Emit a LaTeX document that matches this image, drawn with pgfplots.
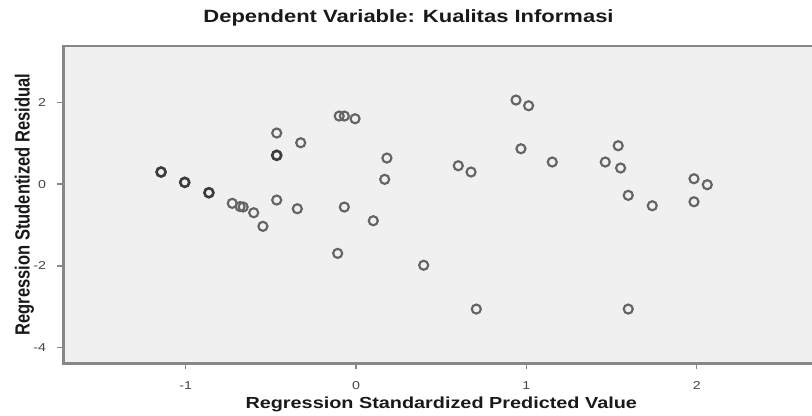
\documentclass[border=0pt]{standalone}
\usepackage{graphicx}
\usepackage{fontspec}
\setmainfont{Liberation Sans}[FakeStretch=1.24]
\newfontfamily\ylabfont{Liberation Sans}
\usepackage{pgfplots}
\pgfplotsset{compat=1.18}
\definecolor{bgc}{RGB}{240,240,240}
\definecolor{framec}{RGB}{135,135,135}
\definecolor{markc}{RGB}{100,100,100}
\definecolor{markd}{RGB}{60,60,60}
\definecolor{txtc}{RGB}{25,25,25}
\definecolor{tickc}{RGB}{70,70,70}
\begin{document}
\begin{tikzpicture}
\begin{axis}[
  name=ax,
  scale only axis,
  width=566.6pt, height=238.2pt,
  xmin=-1.718, xmax=2.718,
  ymin=-4.39, ymax=3.389,
  axis background/.style={fill=bgc},
  axis line style={draw=framec, line width=1.8pt},
  xtick={-1,0,1,2}, ytick={-4,-2,0,2},
  xtick pos=bottom, ytick pos=left,
  tick align=outside,
  major tick length=4.5pt,
  every tick/.style={draw=framec, line width=1.1pt},
  /pgf/number format/assume math mode=true,
  tick label style={font=\fontsize{8.6}{10}\selectfont, text=tickc, inner sep=0pt},
  xticklabel style={anchor=base, yshift=-15.2pt},
  yticklabel style={anchor=east, xshift=-8.3pt},
  every axis title/.style={at={(axis description cs:0.4567,1.0724)}, anchor=base,
    font=\bfseries\fontsize{13.3}{15}\selectfont, text=txtc},
  every axis x label/.style={at={(axis description cs:0.5,-0.1417)}, anchor=base,
    font=\bfseries\fontsize{12}{14}\selectfont, text=txtc},
  every axis y label/.style={at={(axis description cs:-0.0447,0.5)}, rotate=90, anchor=base, text=txtc},
  title={Dependent Variable: Kualitas Informasi},
  xlabel={Regression Standardized Predicted Value},
  ylabel={\ylabfont\bfseries\fontsize{12.4}{14}\selectfont\scalebox{1}[1.24]{Regression Studentized Residual}},
  clip=false,
]
\addplot[only marks, mark=o, mark size=3.4pt, mark options={draw=markc, line width=1.6pt}] table {
x y
-1.145 0.296
-1.006 0.043
-0.864 -0.211
-0.727 -0.471
-0.681 -0.550
-0.663 -0.560
-0.601 -0.701
-0.547 -1.034
-0.466 1.251
-0.466 0.705
-0.466 -0.390
-0.325 1.013
-0.345 -0.603
-0.108 -1.696
-0.099 1.667
-0.069 1.667
-0.006 1.601
-0.069 -0.562
0.101 -0.897
0.181 0.638
0.168 0.117
0.397 -1.987
0.600 0.450
0.675 0.296
0.706 -3.060
0.939 2.059
1.013 1.919
0.968 0.866
1.152 0.541
1.463 0.541
1.539 0.940
1.553 0.394
1.598 -0.275
1.598 -3.060
1.739 -0.530
1.984 0.132
2.062 -0.015
1.984 -0.432
};
\addplot[only marks, mark=o, mark size=3.4pt, mark options={draw=markd, line width=1.9pt}] table {
x y
-1.145 0.296
-1.006 0.043
-0.864 -0.211
-0.466 0.705
};
\end{axis}
\pgfresetboundingbox
\path ([xshift=-47.6pt, yshift=-38.8pt]ax.south west) rectangle ([xshift=-5.25pt, yshift=34.3pt]ax.north east);
\end{tikzpicture}
\end{document}
